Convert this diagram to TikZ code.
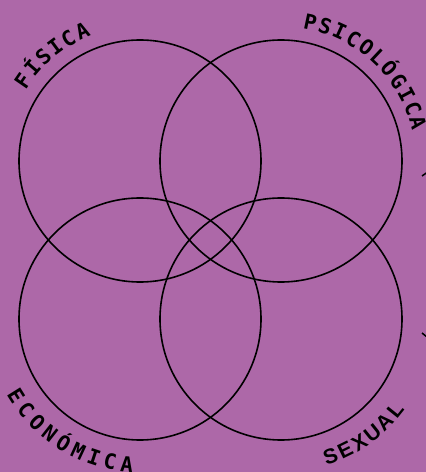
\documentclass[tikz,border=0pt]{standalone}
\usepackage{fontspec}
\newfontfamily\monof{DejaVu Sans Mono}
\newfontfamily\sansf{Liberation Sans}
\definecolor{bg}{RGB}{173,104,168}
\begin{document}
\begin{tikzpicture}[x=1pt,y=1pt,
  ring/.style={circle,draw=black,line width=1.6pt,minimum size=242pt,inner sep=0pt},
  lett/.style={inner sep=0pt,anchor=base,text=black,font=\monof\bfseries\fontsize{21}{21}\selectfont},
  letts/.style={inner sep=0pt,anchor=base,text=black,font=\sansf\bfseries\fontsize{21}{21}\selectfont},
  tick/.style={draw=black,line width=1.5pt}]
\fill[bg] (0,0) rectangle (426,472);
\useasboundingbox (0,0) rectangle (426,472);
\node[ring] (fis) at (140,311) {};
\node[ring] (psi) at (281,311) {};
\node[ring] (eco) at (140,153) {};
\node[ring] (sex) at (281,153) {};
% FISICA
\foreach \ch [count=\i from 0] in {F,Í,S,I,C,A}{
  \pgfmathsetmacro\ang{145.5-\i*6.3}
  \node[lett,rotate=\ang-90] (fisl\i) at ([shift={(\ang:134.5)}]fis.center) {\ch};
}
% PSICOLOGICA
\foreach \ch [count=\i from 0] in {P,S,I,C,O,L,Ó,G,I,C,A}{
  \pgfmathsetmacro\ang{78.1-\i*6.26}
  \node[lett,rotate=\ang-90] (psil\i) at ([shift={(\ang:134.5)}]psi.center) {\ch};
}
% ECONOMICA
\foreach \ch [count=\i from 0] in {E,C,O,N,Ó,M,I,C,A}{
  \pgfmathsetmacro\ang{212+\i*6.6}
  \node[lett,rotate=\ang+90] (ecol\i) at ([shift={(\ang:153.5)}]eco.center) {\ch};
}
% SEXUAL
\foreach \ch [count=\i from 0] in {S,E,X,U,A,L}{
  \pgfmathsetmacro\ang{289.8+\i*6.3}
  \node[letts,rotate=\ang+90] (sexl\i) at ([shift={(\ang:153.5)}]sex.center) {\ch};
}
% partial marks at right edge
\coordinate (m1a) at (422,296);
\coordinate (m1b) at (427,299.5);
\coordinate (m2a) at (422,139);
\coordinate (m2b) at (427,135);
\draw[tick] (m1a) -- (m1b);
\draw[tick] (m2a) -- (m2b);
\end{tikzpicture}
\end{document}
